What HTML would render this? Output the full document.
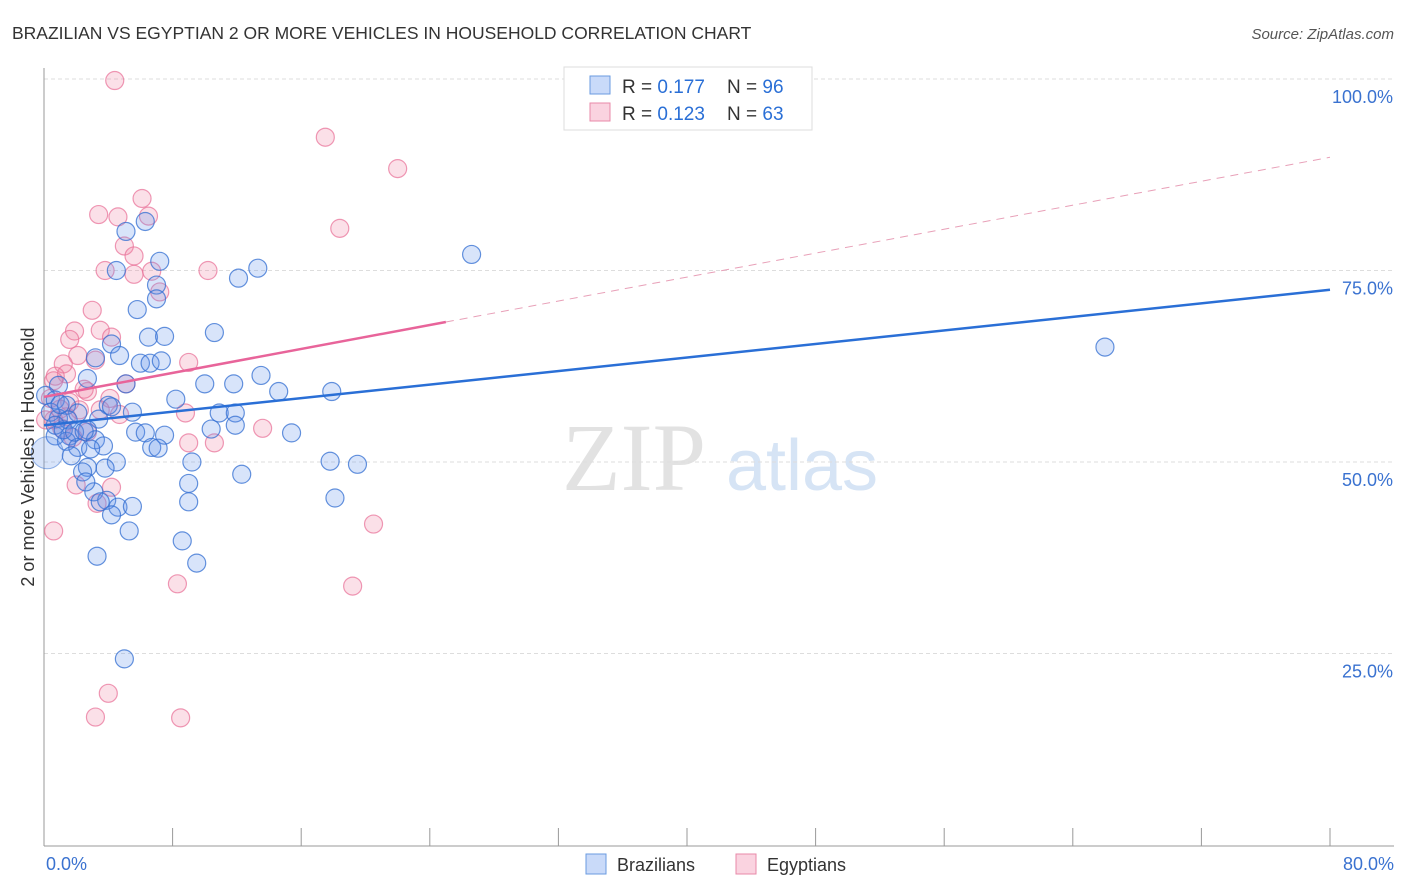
<!DOCTYPE html>
<html><head><meta charset="utf-8"><style>
body{margin:0;background:#fff;font-family:"Liberation Sans",sans-serif;}
svg{display:block}
</style></head><body>
<svg id="chart" width="1406" height="892" xmlns="http://www.w3.org/2000/svg">
<text x="12" y="39" font-size="17.5" fill="#333">BRAZILIAN VS EGYPTIAN 2 OR MORE VEHICLES IN HOUSEHOLD CORRELATION CHART</text>
<text x="1394" y="39" font-size="15" fill="#555" font-style="italic" text-anchor="end">Source: ZipAtlas.com</text>
<g>
<text x="634" y="490" font-size="96" font-family="Liberation Serif,serif" fill="#e2e2e2" text-anchor="middle">ZIP</text>
<text x="802" y="490" font-size="72" fill="#d6e4f5" text-anchor="middle">atlas</text>
</g>
<g id="grid"></g>
<g id="axes"></g>
<g id="pts"></g>
<g id="lines"></g>
<text transform="translate(34,457) rotate(-90)" font-size="18" fill="#333" text-anchor="middle">2 or more Vehicles in Household</text>
<g>
<rect x="564" y="67" width="248" height="63" fill="#fff" stroke="#ddd"/>
<rect x="590" y="76" width="20" height="18" fill="rgba(100,149,237,0.35)" stroke="#6a9be0"/>
<rect x="590" y="103" width="20" height="18" fill="rgba(240,130,165,0.35)" stroke="#e88aa8"/>
<text x="622" y="93" font-size="19" fill="#333">R = <tspan fill="#2a6fd6">0.177</tspan></text>
<text x="727" y="93" font-size="19" fill="#333">N = <tspan fill="#2a6fd6">96</tspan></text>
<text x="622" y="120" font-size="19" fill="#333">R = <tspan fill="#2a6fd6">0.123</tspan></text>
<text x="727" y="120" font-size="19" fill="#333">N = <tspan fill="#2a6fd6">63</tspan></text>
</g>
<g>
<rect x="586" y="854" width="20" height="20" fill="rgba(100,149,237,0.35)" stroke="#6a9be0"/>
<text x="617" y="871" font-size="18" fill="#333">Brazilians</text>
<rect x="736" y="854" width="20" height="20" fill="rgba(240,130,165,0.35)" stroke="#e88aa8"/>
<text x="767" y="871" font-size="18" fill="#333">Egyptians</text>
</g>
</svg>
<script>
const xTicks=[8,16,24,32,40,48,56,64,72,80];
const yTickVals=[25,50,75,100];
const yTickLabels=["25.0%","50.0%","75.0%","100.0%"];
const xEndLabels=["0.0%","80.0%"];
const brX=[6.3,5.1,7.2,4.5,12.1,13.3,26.6,7.0,7.0,5.8,6.5,7.5,10.6,4.2,4.7,3.2,6.0,6.6,7.3,5.1,10.0,11.8,13.5,14.6,17.9,66.0,0.9,2.7,8.2,4.0,4.2,5.5,10.9,11.9,0.1,0.7,1.4,2.1,3.4,0.9,1.5,11.9,10.4,15.4,5.7,6.3,7.5,2.7,0.7,1.6,3.2,3.7,6.7,7.1,1.4,2.1,2.9,1.7,4.5,2.7,3.8,9.2,17.8,19.5,12.3,2.4,9.0,3.1,2.6,3.9,4.6,3.5,5.5,9.0,18.1,4.2,5.3,8.6,3.3,9.5,5.0,0.4,1.0,0.7,1.2,1.9,2.5];
const brY=[81.4,80.1,76.2,75.0,74.0,75.3,77.1,73.1,71.3,69.9,66.3,66.4,66.9,65.4,63.9,63.6,62.9,62.9,63.2,60.2,60.2,60.2,61.3,59.2,59.2,65.0,60.0,60.9,58.2,57.4,57.2,56.5,56.4,56.4,58.7,58.1,57.4,56.4,55.6,55.7,55.5,54.8,54.3,53.8,53.9,53.8,53.5,54.2,53.4,53.4,52.9,52.1,51.9,51.8,52.7,51.9,51.7,50.8,50.0,49.3,49.2,50.0,50.1,49.7,48.4,48.7,47.2,46.1,47.4,45.0,44.1,44.8,44.2,44.8,45.3,43.1,41.0,39.7,37.7,36.8,24.3,56.5,57.5,54.8,54.2,53.9,54.0];
const brBig=[0.2,51.2];
const egX=[4.4,17.5,22.0,3.4,4.6,6.5,6.1,18.4,5.0,5.6,3.8,6.7,5.6,10.2,7.2,3.0,1.9,1.6,3.5,4.2,2.1,1.2,3.2,1.4,0.7,0.6,9.0,5.1,2.7,4.1,2.5,1.6,1.0,2.2,3.5,4.7,8.8,13.6,0.6,1.1,2.7,1.8,9.0,10.6,2.0,4.2,3.3,0.6,8.3,19.2,20.5,4.0,3.2,8.5,0.4,0.1,1.4];
const egY=[99.8,92.4,88.3,82.3,82.0,82.1,84.4,80.5,78.2,76.9,75.0,74.9,74.5,75.0,72.2,69.8,67.1,66.0,67.2,66.3,63.9,62.8,63.3,61.5,61.2,60.6,63.0,60.2,59.2,58.3,59.5,57.8,56.9,56.8,56.8,56.2,56.4,54.4,55.5,54.4,53.9,53.2,52.5,52.5,47.0,46.7,44.6,41.0,34.1,33.8,41.9,19.8,16.7,16.6,58.3,55.5,55.9];
const brTrend=[54.8,0.221];
const egTrend=[58.5,0.391,25];
const NS="http://www.w3.org/2000/svg";
const X=v=>44+v*1286/80, Y=v=>845-v*7.66;
function mk(t,a,p){const e=document.createElementNS(NS,t);for(const k in a)e.setAttribute(k,a[k]);p.appendChild(e);return e;}
const grid=document.getElementById('grid'),axes=document.getElementById('axes'),pts=document.getElementById('pts'),lines=document.getElementById('lines');
yTickVals.forEach((v,i)=>{
 const l=mk('line',{x1:44,x2:1394,y1:Y(v),y2:Y(v),stroke:'#ddd','stroke-dasharray':'4,3'},grid);
 
 
 const t=mk('text',{x:1393,y:Y(v)+24,'font-size':18,fill:'#3a72d0','text-anchor':'end'},axes);
 t.textContent=yTickLabels[i];
 
 
});
const ya=mk('line',{x1:44,x2:44,y1:68,y2:846,stroke:'#999'},axes);


const xa=mk('line',{x1:44,x2:1394,y1:846,y2:846,stroke:'#999'},axes);


xTicks.forEach(v=>{
 const t=mk('line',{x1:X(v),x2:X(v),y1:828,y2:846,stroke:'#999'},axes);
 
 
});
[[0,'start',46],[80,'end',1394]].forEach((d,i)=>{
 const t=mk('text',{x:d[2],y:870,'font-size':18,fill:'#3a72d0','text-anchor':d[1]},axes);
 t.textContent=xEndLabels[i];
 
 
});
egX.forEach((v,i)=>{
 const c=mk('circle',{cx:X(v),cy:Y(egY[i]),r:9,fill:'rgba(240,130,165,0.25)',stroke:'rgba(232,110,150,0.7)','stroke-width':1.2},pts);
 
 
});
brX.forEach((v,i)=>{
 const c=mk('circle',{cx:X(v),cy:Y(brY[i]),r:9,fill:'rgba(100,149,237,0.25)',stroke:'rgba(50,110,210,0.75)','stroke-width':1.2},pts);
 
 
});
const bb=mk('circle',{cx:X(brBig[0]),cy:Y(brBig[1]),r:16,fill:'rgba(100,149,237,0.25)',stroke:'rgba(50,110,210,0.5)'},pts);


const bl=mk('line',{x1:X(0),y1:Y(brTrend[0]),x2:X(80),y2:Y(brTrend[0]+brTrend[1]*80),stroke:'#2a6fd6','stroke-width':2.5},lines);


const el=mk('line',{x1:X(0),y1:Y(egTrend[0]),x2:X(egTrend[2]),y2:Y(egTrend[0]+egTrend[1]*egTrend[2]),stroke:'#e8649a','stroke-width':2.5},lines);


const ed=mk('line',{x1:X(egTrend[2]),y1:Y(egTrend[0]+egTrend[1]*egTrend[2]),x2:X(80),y2:Y(egTrend[0]+egTrend[1]*80),stroke:'#e8a0b8','stroke-width':1,'stroke-dasharray':'8,6'},lines);


</script>
</body></html>
